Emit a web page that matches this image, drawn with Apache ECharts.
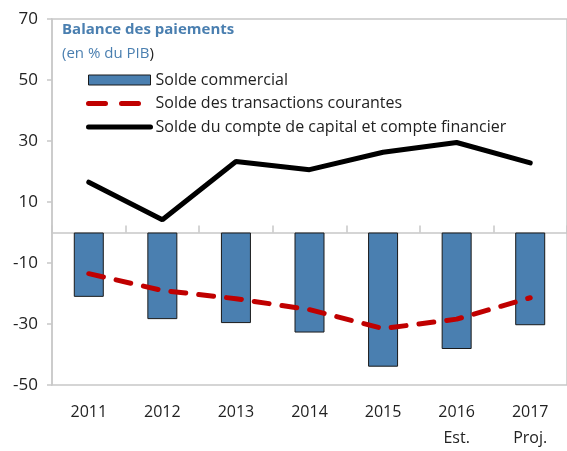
<!DOCTYPE html>
<html>
<head>
<meta charset="utf-8">
<script src="https://cdn.jsdelivr.net/npm/echarts@6/dist/echarts.min.js"></script>
<style>
    html, body { margin: 0; padding: 0; background: #fff; }
    #chart { width: 567px; height: 451px; }
</style>
</head>
<body>
<div id="chart"></div>
<script>
    // années (2016 estimation, 2017 projection)
    const years = ['2011', '2012', '2013', '2014', '2015', '2016\nEst.', '2017\nProj.']
    const soldeCommercial = [-21.1, -28.4, -29.7, -32.8, -44.0, -38.2, -30.4]
    const soldeCourant = [-13.5, -19.0, -21.7, -25.3, -31.5, -28.4, -21.4]
    const soldeCapital = [16.5, 4.2, 23.3, 20.6, 26.3, 29.5, 22.8]
    const yTicks = { min: -50, max: 70, interval: 20 }

    const font = '"Open Sans", "DejaVu Sans", sans-serif'
    const grey = '#c8c8c8'
    const hidden = { opacity: 0 }   // cache le symbole rond dans la légende des courbes

    const chart = echarts.init(document.getElementById('chart'))
    chart.setOption({
        animation: false,
        textStyle: { fontFamily: font },
        title: {
            text: '{b|Balance des paiements}\n{s|(en % du PIB}{k|)}',
            left: 57, top: 13,
            textStyle: {
                rich: {
                    b: { fontFamily: font, fontWeight: 'bold', fontSize: 15, color: '#4a7fb0', lineHeight: 24 },
                    s: { fontFamily: font, fontWeight: 'normal', fontSize: 15, color: '#4a7fb0', lineHeight: 24 },
                    k: { fontFamily: font, fontWeight: 'normal', fontSize: 15, color: '#222', lineHeight: 24 }
                }
            }
        },
        legend: {
            orient: 'vertical',
            left: 86, top: 72, padding: 0,
            itemWidth: 62, itemHeight: 10, itemGap: 7.5,
            textStyle: { fontFamily: font, fontSize: 16, color: '#222' },
            data: [
                { name: 'Solde commercial', icon: 'rect', itemStyle: { borderWidth: 1, borderColor: '#1a1a1a' } },
                { name: 'Solde des transactions courantes', itemStyle: hidden,
                  lineStyle: { width: 5, type: [17, 16], cap: 'round' } },
                { name: 'Solde du compte de capital et compte financier', itemStyle: hidden,
                  lineStyle: { width: 5, cap: 'round' } }
            ]
        },
        grid: {
            left: 52, right: -2, top: 19, bottom: 64,
            show: true, borderColor: grey, borderWidth: 1.5,
            containLabel: false
        },
        xAxis: [{
            type: 'category',
            data: years,
            position: 'bottom',
            axisLine: { show: false, onZero: false },
            axisTick: { show: false },
            axisLabel: { color: '#222', fontSize: 16, lineHeight: 26, margin: 14 }
        }, {
            type: 'category',
            data: years,
            position: 'top',
            axisLine: { show: true, onZero: true, lineStyle: { color: grey, width: 1.5 } },
            axisTick: { show: true, inside: false, length: 7, lineStyle: { color: grey, width: 1.5 } },
            axisLabel: { show: false }
        }],
        yAxis: {
            type: 'value',
            min: yTicks.min, max: yTicks.max, interval: yTicks.interval,
            axisLine: { show: true, lineStyle: { color: grey, width: 1.5 } },
            axisTick: { show: true, length: 5, lineStyle: { color: grey, width: 1.5 } },
            axisLabel: { color: '#222', fontSize: 17, margin: 14 },
            splitLine: { show: false }
        },
        series: [{
            name: 'Solde commercial',
            type: 'bar',
            data: soldeCommercial,
            barWidth: 30,
            itemStyle: { color: '#4a7fb0', borderColor: '#1a1a1a', borderWidth: 1 }
        }, {
            name: 'Solde des transactions courantes',
            type: 'line',
            data: soldeCourant,
            symbol: 'none',
            lineStyle: { color: '#c00000', width: 5, type: [15, 13], cap: 'round' },
            itemStyle: { color: '#c00000' }
        }, {
            name: 'Solde du compte de capital et compte financier',
            type: 'line',
            data: soldeCapital,
            symbol: 'none',
            lineStyle: { color: '#000', width: 5, cap: 'round' },
            itemStyle: { color: '#000' }
        }]
    })
</script>
</body>
</html>
